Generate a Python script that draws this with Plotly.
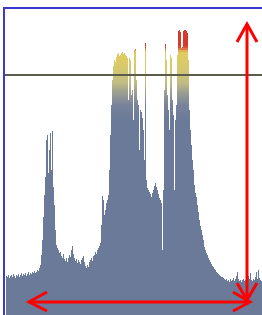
import plotly.graph_objects as go
import numpy as np

# Histogram: 256 intensity levels, counts (in plot units)
levels = list(range(256))
tops_px = [
276,277,275,278,276,275,277,274,276,278,275,276,274,277,275,273,276,274,275,273,276,274,272,275,
273,274,272,273,271,273,272,270,271,268,265,255,240,217,195,177,140,135,173,150,133,170,131,187,
205,230,245,248,250,253,252,256,258,254,259,261,258,262,258,255,257,250,246,254,258,261,259,263,
260,262,264,260,258,256,262,266,268,265,267,262,260,258,261,256,255,252,254,250,248,246,243,225,
196,200,215,210,203,200,195,170,135,105,80,66,60,62,57,54,53,56,55,53,52,54,53,55,56,58,
100,58,60,95,90,120,50,49,80,100,105,150,110,112,118,130,160,43,180,188,190,192,194,197,193,190,
186,183,187,190,194,198,200,203,250,190,90,44,60,95,110,130,55,58,100,115,190,120,105,55,31,30,
32,48,47,31,30,30,31,33,60,110,130,145,160,170,185,193,197,205,212,220,226,230,235,240,247,250,
253,255,258,260,262,264,266,267,269,270,272,273,274,275,276,277,277,278,279,280,279,281,280,282,
279,281,280,278,281,279,276,272,279,281,280,282,280,279,281,280,278,280,276,279,273,280,281,279,
280,277,272,279,270,278,280,281]
counts = [315 - t for t in tops_px]
threshold = 240

W, H = 262, 315
L, T = 5, 9
YMAX = H - T

stops = [(0, "#6b7a99"), (195, "#6b7a99"), (210, "#77839a"), (222, "#9a9d92"),
         (232, "#bfbb84"), (242, "#d2c674"), (255, "#dccb66"), (263, "#e0cb5e"),
         (266, "#dd7a45"), (269, "#d63a2a"), (400, "#d63a2a")]

def hex2rgb(h):
    h = h.lstrip('#')
    return [int(h[i:i+2], 16) for i in (0, 2, 4)]

def color_at(v):
    for (v0, c0), (v1, c1) in zip(stops[:-1], stops[1:]):
        if v0 <= v <= v1:
            f = 0 if v1 == v0 else (v - v0) / (v1 - v0)
            a, b = hex2rgb(c0), hex2rgb(c1)
            return "rgb(%d,%d,%d)" % tuple(round(a[i] + (b[i] - a[i]) * f) for i in range(3))
    return stops[-1][1]

cnt = np.array(counts, dtype=float)
edges = [0, 195] + list(range(197, 300, 2)) + [400]
fig = go.Figure()
for lo, hi in zip(edges[:-1], edges[1:]):
    seg = np.clip(cnt, lo, hi) - lo
    if seg.max() <= 0:
        continue
    fig.add_trace(go.Bar(x=levels, y=seg, base=lo, marker=dict(color=color_at((lo + hi) / 2), line=dict(width=0)),
                         hoverinfo="skip", showlegend=False))

def px(x):
    return x - (L + 1.5)

def py(y):
    return H - y

def path(pts):
    return "M " + " L ".join("%g,%g" % (px(a), py(b)) for a, b in pts)

red = dict(color="#ff0000", width=3)
shapes = [
    dict(type="line", xref="paper", yref="y", x0=0, x1=1, y0=threshold, y1=threshold,
         line=dict(color="#5a5c4c", width=2), layer="above"),
    dict(type="path", xref="x", yref="y", path=path([(247, 24), (247, 299)]), line=red),
    dict(type="path", xref="x", yref="y", path=path([(237, 42), (247, 24), (257, 42)]), line=red),
    dict(type="path", xref="x", yref="y", path=path([(237, 283), (247, 300), (257, 283)]), line=red),
    dict(type="path", xref="x", yref="y", path=path([(30, 302), (249, 302)]), line=red),
    dict(type="path", xref="x", yref="y", path=path([(47, 292), (29, 302), (47, 311)]), line=red),
    dict(type="path", xref="x", yref="y", path=path([(233, 292), (250, 302), (233, 311)]), line=red),
]

fig.update_layout(
    width=W, height=H, margin=dict(l=L, r=0, t=T, b=0, pad=0),
    barmode="overlay", bargap=0, plot_bgcolor="white", paper_bgcolor="white",
    shapes=shapes, showlegend=False,
    xaxis=dict(range=[-1.5, 255.5], showgrid=False, zeroline=False, showticklabels=False, ticks="",
               showline=True, linecolor="#3a3acc", linewidth=2, side="top", fixedrange=True),
    yaxis=dict(range=[0, YMAX], showgrid=False, zeroline=False, showticklabels=False, ticks="",
               showline=True, linecolor="#3a3acc", linewidth=2, fixedrange=True),
)
fig.write_html("out.html", config={"displayModeBar": False},
               post_script="document.body.style.margin='0px';document.body.style.overflow='hidden';")
